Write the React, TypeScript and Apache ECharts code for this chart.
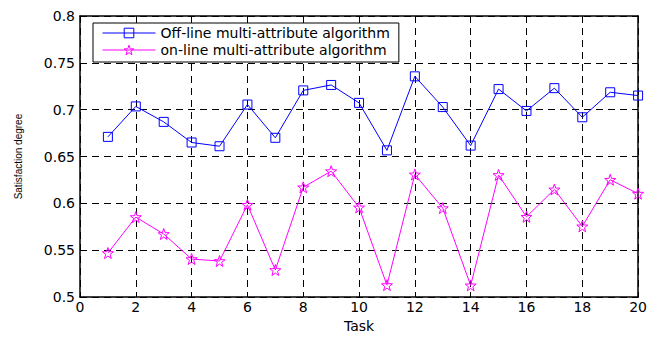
import React, { useEffect, useRef } from "react";
import * as echarts from "echarts";

const tasks = [1, 2, 3, 4, 5, 6, 7, 8, 9, 10, 11, 12, 13, 14, 15, 16, 17, 18, 19, 20];
const offlineValues = [0.671, 0.7035, 0.687, 0.665, 0.661, 0.7055, 0.67, 0.7206, 0.7264, 0.7073, 0.6566, 0.7356, 0.7028, 0.6617, 0.722, 0.6987, 0.723, 0.6919, 0.7186, 0.7151];
const onlineValues = [0.547, 0.5854, 0.5673, 0.5406, 0.5385, 0.5985, 0.5289, 0.6172, 0.6344, 0.5957, 0.5128, 0.6309, 0.595, 0.5125, 0.6303, 0.5857, 0.6149, 0.5755, 0.6252, 0.6104];
const seriesNames = ["Off-line multi-attribute algorithm", "on-line multi-attribute algorithm"];
const seriesColors = ["#0000ff", "#ff00ff"];
const xTitle = "Task";
const yTitle = "Satisfaction degree";

const STAR =
  "path://M0,-10 L2.35,-3.24 L9.51,-3.09 L3.8,1.24 L5.88,8.09 L0,4 L-5.88,8.09 L-3.8,1.24 L-9.51,-3.09 L-2.35,-3.24 Z";

export default function App() {
  const ref = useRef<HTMLDivElement>(null);
  useEffect(() => {
    document.body.style.margin = "0";
    document.body.style.overflow = "hidden";
    document.documentElement.style.overflow = "hidden";
    if (!ref.current) return;
    const chart = echarts.init(ref.current, null, { renderer: "svg" });
    const font = "DejaVu Sans";
    const gridLine = { show: true, lineStyle: { color: "#000", type: [7, 5] as any, width: 1 } };
    const axisLine = { show: true, onZero: false, lineStyle: { color: "#000", width: 1.5 } };
    const axisTick = { show: true, inside: true, length: 5, lineStyle: { color: "#000", width: 1 } };
    chart.setOption({
      animation: false,
      backgroundColor: "#fff",
      grid: { left: 80, right: 2, top: 16, bottom: 30, containLabel: false },
      legend: {
        orient: "vertical",
        left: 93,
        top: 23,
        padding: [3, 9, 5, 9],
        itemGap: 3,
        itemWidth: 53,
        itemHeight: 12,
        backgroundColor: "#fff",
        borderColor: "#000",
        borderWidth: 1,
        borderRadius: 0,
        textStyle: { fontFamily: font, fontSize: 14, color: "#000" },
        data: seriesNames.map((n, i) => ({
          name: n,
          itemStyle: { color: "rgba(0,0,0,0)", borderColor: seriesColors[i], borderWidth: 1 },
          lineStyle: { color: seriesColors[i], width: 1 },
        })),
      },
      xAxis: [
        {
          type: "value",
          min: 0,
          max: 20,
          interval: 2,
          position: "bottom",
          name: xTitle,
          nameLocation: "middle",
          nameGap: 17,
          nameTextStyle: { fontFamily: font, fontSize: 14, color: "#000" },
          axisLine,
          axisTick,
          axisLabel: { fontFamily: font, fontSize: 14, color: "#000", margin: 3 },
          splitLine: gridLine,
        },
        {
          type: "value",
          min: 0,
          max: 20,
          interval: 2,
          position: "top",
          axisLine,
          axisTick,
          axisLabel: { show: false },
          splitLine: { show: false },
        },
      ],
      yAxis: [
        {
          type: "value",
          min: 0.5,
          max: 0.8,
          interval: 0.05,
          position: "left",
          name: yTitle,
          nameLocation: "middle",
          nameGap: 57,
          nameTextStyle: { fontFamily: "Liberation Sans", fontSize: 10, color: "#000" },
          axisLine,
          axisTick,
          axisLabel: { fontFamily: font, fontSize: 14, color: "#000", margin: 5 },
          splitLine: gridLine,
        },
        {
          type: "value",
          min: 0.5,
          max: 0.8,
          interval: 0.05,
          position: "right",
          axisLine,
          axisTick,
          axisLabel: { show: false },
          splitLine: { show: false },
        },
      ],
      series: [
        {
          name: seriesNames[0],
          type: "line",
          data: tasks.map((t, i) => [t, offlineValues[i]]),
          symbol: "rect",
          symbolSize: 9,
          color: seriesColors[0],
          lineStyle: { color: seriesColors[0], width: 1 },
          itemStyle: { color: "rgba(0,0,0,0)", borderColor: seriesColors[0], borderWidth: 1 },
          emphasis: { disabled: true },
          z: 3,
        },
        {
          name: seriesNames[1],
          type: "line",
          data: tasks.map((t, i) => [t, onlineValues[i]]),
          symbol: STAR,
          symbolSize: 11,
          color: seriesColors[1],
          lineStyle: { color: seriesColors[1], width: 1 },
          itemStyle: { color: "rgba(0,0,0,0)", borderColor: seriesColors[1], borderWidth: 1 },
          emphasis: { disabled: true },
          z: 3,
        },
      ],
    });
    return () => chart.dispose();
  }, []);
  return <div ref={ref} style={{ width: 650, height: 338 }} />;
}
